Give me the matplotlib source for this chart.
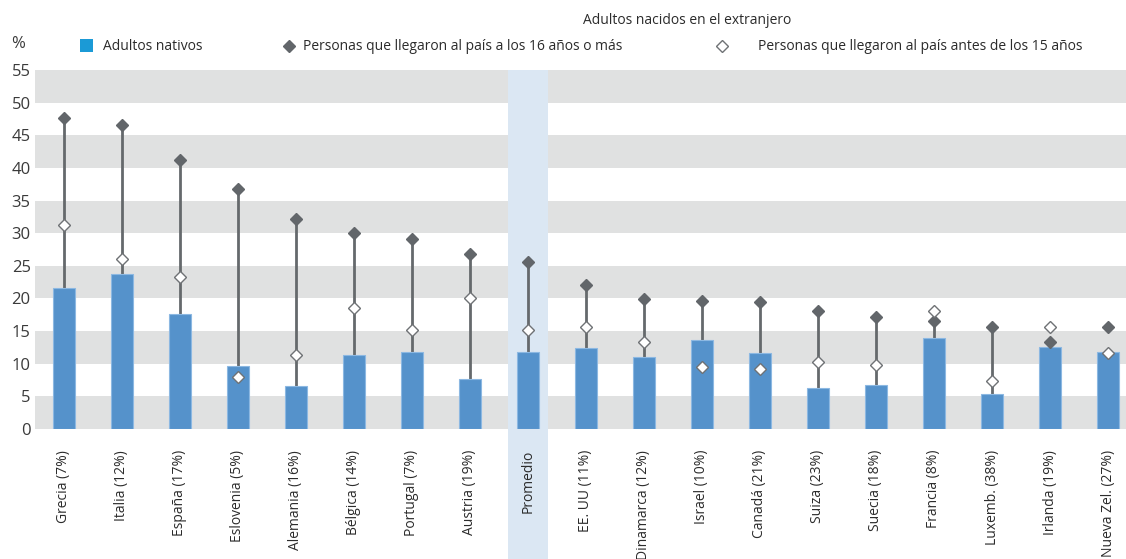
import matplotlib
matplotlib.use("Agg")
import matplotlib.pyplot as plt
from matplotlib.patches import Rectangle
from matplotlib.lines import Line2D

plt.rcParams["font.family"] = ["Open Sans", "DejaVu Sans"]

# data
paises = ["Grecia (7%)", "Italia (12%)", "España (17%)", "Eslovenia (5%)",
          "Alemania (16%)", "Bélgica (14%)", "Portugal (7%)", "Austria (19%)",
          "Promedio", "EE. UU (11%)", "Dinamarca (12%)", "Israel (10%)",
          "Canadá (21%)", "Suiza (23%)", "Suecia (18%)", "Francia (8%)",
          "Luxemb. (38%)", "Irlanda (19%)", "Nueva Zel. (27%)"]
nativos = [21.6, 23.7, 17.6, 9.7, 6.6, 11.3, 11.8, 7.6, 11.8, 12.4, 11.1,
           13.7, 11.6, 6.3, 6.8, 14.0, 5.3, 12.6, 11.8]
llegados_16_mas = [47.6, 46.6, 41.2, 36.7, 32.1, 30.1, 29.1, 26.8, 25.6, 22.0,
                   19.9, 19.6, 19.4, 18.1, 17.2, 16.6, 15.6, 13.4, 15.7]
llegados_antes_15 = [31.3, 26.0, 23.3, 8.0, 11.4, 18.5, 15.1, 20.0, 15.2, 15.7,
                     13.4, 9.5, 9.2, 10.3, 9.8, 18.0, 7.4, 15.6, 11.7]
conector = [True] * 18 + [False]
idx_promedio = paises.index("Promedio")

BAR = "#5592cb"
DARK = "#62666a"
LINE = "#65696c"
STRIPE = "#e0e1e1"
BAND = "#dbe7f3"
TXT = "#2b2b2b"

fig = plt.figure(figsize=(11.26, 5.59), dpi=100)
ax = fig.add_axes([0.031, 0.2326, 0.969, 0.6422])

x = list(range(len(paises)))
ax.set_xlim(-0.5, 18.31)
ax.set_ylim(0, 55)

# grey bands
for lo in range(0, 55, 10):
    ax.axhspan(lo, lo + 5, color=STRIPE, lw=0, zorder=0)

# highlight for the average, running down through the labels
ax.add_patch(Rectangle((idx_promedio - 0.345, -26), 0.69, 81, facecolor=BAND,
                       edgecolor="none", zorder=0.5, clip_on=False))

for i in x:
    if conector[i] and llegados_16_mas[i] > nativos[i]:
        ax.plot([i, i], [nativos[i], llegados_16_mas[i]], color=LINE, lw=2,
                zorder=1, solid_capstyle="butt")

ax.bar(x, nativos, width=0.38, color=BAR, edgecolor="#8cb8e2", linewidth=0.8,
       zorder=2)
ax.plot(x, llegados_16_mas, "D", ls="none", ms=6.5, color=DARK, mec=DARK,
        zorder=3)
ax.plot(x, llegados_antes_15, "D", ls="none", ms=6.5, mfc="white",
        mec="#6f7275", mew=1, zorder=4)

ax.set_yticks(range(0, 56, 5))
ax.tick_params(axis="y", length=0, pad=3, labelsize=12, labelcolor="#3a3a3a")
ax.set_xticks(x)
ax.set_xticklabels(paises, rotation=90, va="top", ha="center")
ax.tick_params(axis="x", length=0, pad=15, labelsize=10, labelcolor=TXT)
for s in ax.spines.values():
    s.set_visible(False)

# legend, laid out by hand like the original
W, H = 1126.0, 559.0
def fx(px):
    return px / W
def fy(py):
    return 1 - py / H

fig.text(fx(18), fy(44), "%", ha="center", va="center", fontsize=12,
         color="#3a3a3a")
fig.add_artist(Rectangle((fx(80), fy(52)), 13 / W, 13 / H,
                         transform=fig.transFigure, facecolor="#1b9ad6",
                         edgecolor="none"))
fig.text(fx(103), fy(46), "Adultos nativos", ha="left", va="center",
         fontsize=10, color=TXT)
fig.add_artist(Line2D([fx(289)], [fy(46)], transform=fig.transFigure,
                      marker="D", ms=6.5, color=DARK, ls="none"))
fig.text(fx(303), fy(46), "Personas que llegaron al país a los 16 años o más",
         ha="left", va="center", fontsize=10, color=TXT)
fig.add_artist(Line2D([fx(722)], [fy(46)], transform=fig.transFigure,
                      marker="D", ms=6.5, mfc="white", mec="#6f7275", mew=1,
                      ls="none"))
fig.text(fx(758), fy(46), "Personas que llegaron al país antes de los 15 años",
         ha="left", va="center", fontsize=10, color=TXT)
fig.text(fx(687), fy(20), "Adultos nacidos en el extranjero", ha="center",
         va="center", fontsize=10, color=TXT)

fig.savefig("out.png", dpi=100)
